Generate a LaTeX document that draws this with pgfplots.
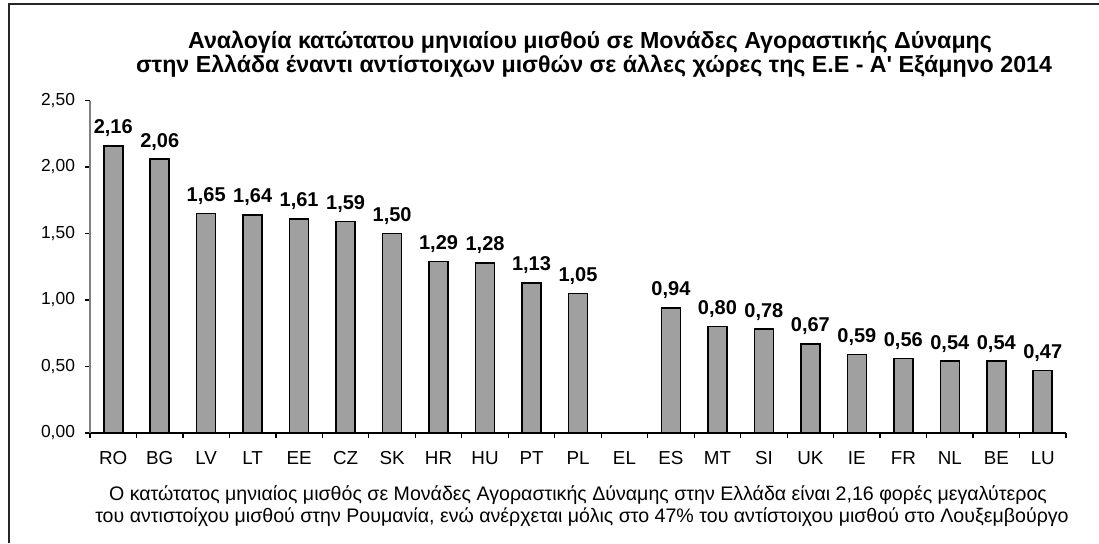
\documentclass[border=0pt]{standalone}
\usepackage{fontspec}
\setmainfont{Liberation Sans}[Ligatures=TeXOff]
\usepackage{pgfplots}
\pgfplotsset{compat=1.18}
\definecolor{barfill}{RGB}{160,160,160}
\definecolor{axisgray}{RGB}{128,128,128}
\begin{document}
\begin{tikzpicture}
\useasboundingbox (0,0) rectangle (549.5pt,271.5pt);
% outer frame (left and top edges)
\draw[line width=0.9pt, black!85] (4.5pt,0) -- (4.5pt,269.5pt) -- (549.5pt,269.5pt);
\begin{axis}[
  at={(45pt,55pt)}, anchor=south west,
  scale only axis, width=488pt, height=166.25pt,
  xmin=-0.5, xmax=20.5, ymin=0, ymax=2.5,
  axis x line*=bottom, axis y line*=left,
  x axis line style={black, line width=0.8pt, -},
  y axis line style={axisgray, line width=0.8pt, -},
  xtick={0,...,20},
  xticklabels={RO,BG,LV,LT,EE,CZ,SK,HR,HU,PT,PL,EL,ES,MT,SI,UK,IE,FR,NL,BE,LU},
  major x tick style={draw=none},
  minor xtick={-0.5,0.5,...,20.5},
  minor tick length=2.5pt, major tick length=2.5pt,
  tick align=outside,
  tick style={black, line width=0.6pt},
  ytick={0,0.5,1,1.5,2,2.5},
  yticklabel style={font=\fontsize{8.7}{10}\selectfont, xshift=-1.5pt,
    /pgf/number format/fixed, /pgf/number format/fixed zerofill,
    /pgf/number format/precision=2, /pgf/number format/use comma,
    /pgf/number format/assume math mode=true},
  xticklabel style={font=\fontsize{9.4}{10}\selectfont, anchor=base, yshift=-13pt},
  ybar, bar width=9.5pt,
  nodes near coords={\pgfmathprintnumber[fixed, fixed zerofill, precision=2, use comma, assume math mode=true]{\pgfplotspointmeta}},
  nodes near coords style={font=\bfseries\fontsize{10}{11}\selectfont, anchor=base, inner sep=0pt, yshift=6pt},
  clip=false,
]
\addplot[fill=barfill, draw=black, line width=0.8pt] coordinates {
  (0,2.16) (1,2.06) (2,1.65) (3,1.64) (4,1.61) (5,1.59) (6,1.50)
  (7,1.29) (8,1.28) (9,1.13) (10,1.05)
  (12,0.94) (13,0.80) (14,0.78) (15,0.67) (16,0.59) (17,0.56)
  (18,0.54) (19,0.54) (20,0.47)
};
\end{axis}
% title
\node[font=\bfseries\fontsize{11.6}{12}\selectfont, anchor=base] at (295pt,247.5pt)
  {Αναλογία κατώτατου μηνιαίου μισθού σε Μονάδες Αγοραστικής Δύναμης};
\node[font=\bfseries\fontsize{11.6}{12}\selectfont, anchor=base] at (297pt,235.5pt)
  {στην Ελλάδα έναντι αντίστοιχων μισθών σε άλλες χώρες της Ε.Ε - Α' Εξάμηνο 2014};
% caption
\node[font=\fontsize{9.8}{12}\selectfont, anchor=base] at (289pt,21.5pt)
  {Ο κατώτατος μηνιαίος μισθός σε Μονάδες Αγοραστικής Δύναμης στην Ελλάδα είναι 2,16 φορές μεγαλύτερος};
\node[font=\fontsize{9.8}{12}\selectfont, anchor=base] at (291pt,10.5pt)
  {του αντιστοίχου μισθού στην Ρουμανία, ενώ ανέρχεται μόλις στο 47\% του αντίστοιχου μισθού στο Λουξεμβούργο};
\end{tikzpicture}
\end{document}
